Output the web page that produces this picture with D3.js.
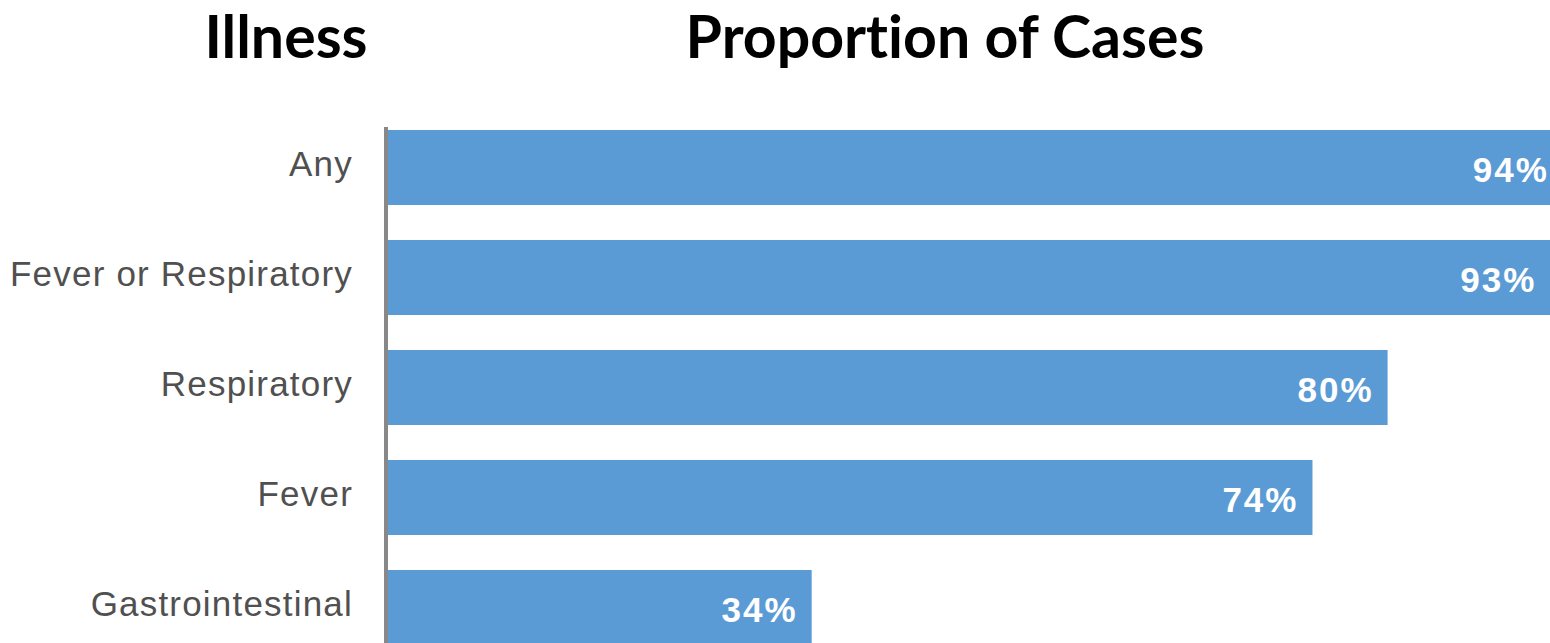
<!DOCTYPE html>
<html>
<head>
<meta charset="utf-8">
<script src="https://cdn.jsdelivr.net/npm/d3@7"></script>
<style>
  html, body { margin: 0; padding: 0; background: #fff; overflow: hidden; }
  svg { display: block; }
  text { font-variant-ligatures: none; }
</style>
</head>
<body>
<svg id="chart" width="1550" height="643"></svg>
<script>
// Share of cases reporting each illness type
const categories = ["Any", "Fever or Respiratory", "Respiratory", "Fever", "Gastrointestinal"];
const proportions = [94, 93, 80, 74, 34];
const headers = ["Illness", "Proportion of Cases"];

const W = 1550, H = 643;
const svg = d3.select("#chart");

// Horizontal value scale (percent); long bars run past the right edge
const x = d3.scaleLinear().domain([0, 100]).range([386, 386 + 1252]);

// One band per illness: 110px step, 75px bars
const y = d3.scaleBand()
  .domain(categories)
  .range([112.5, 662.5])
  .paddingInner(35 / 110)
  .paddingOuter(35 / 220);

const rows = categories.map((c, i) => ({ cat: c, val: proportions[i] }));

// Column headers
svg.selectAll("text.header")
  .data(headers)
  .join("text")
  .attr("class", "header")
  .attr("x", (d, i) => i === 0 ? 286 : 945)
  .attr("y", 58)
  .attr("text-anchor", "middle")
  .attr("font-family", "Lato, 'Open Sans', sans-serif")
  .attr("font-weight", "bold")
  .attr("font-size", 59)
  .attr("fill", "#000")
  .text(d => d);

// Bars
svg.selectAll("rect.bar")
  .data(rows)
  .join("rect")
  .attr("class", "bar")
  .attr("x", x(0))
  .attr("y", d => y(d.cat))
  .attr("width", d => x(d.val) - x(0))
  .attr("height", y.bandwidth())
  .attr("fill", "#5B9BD5");

// Value labels inside the bar ends
svg.selectAll("text.value")
  .data(rows)
  .join("text")
  .attr("class", "value")
  .attr("x", d => Math.min(x(d.val), W + 13) - 14)
  .attr("y", d => y(d.cat) + y.bandwidth() / 2 + 14)
  .attr("text-anchor", "end")
  .attr("font-family", "'Liberation Sans', Arial, sans-serif")
  .attr("font-weight", "bold")
  .attr("font-size", 35)
  .attr("letter-spacing", 2)
  .attr("fill", "#fff")
  .text(d => d.val + "%");

// Category axis
const yAxis = d3.axisLeft(y).tickSize(0).tickPadding(0);
const gAxis = svg.append("g")
  .attr("transform", `translate(${x(0)},0)`)
  .call(yAxis);

gAxis.select(".domain")
  .attr("d", `M0,127V${H}`)
  .attr("stroke", "#888")
  .attr("stroke-width", 4);

gAxis.selectAll(".tick text")
  .attr("x", -33)
  .attr("dy", "0.25em")
  .attr("font-family", "'Liberation Sans', Arial, sans-serif")
  .attr("font-size", 35)
  .attr("letter-spacing", 1.2)
  .attr("fill", "#505050");
</script>
</body>
</html>
